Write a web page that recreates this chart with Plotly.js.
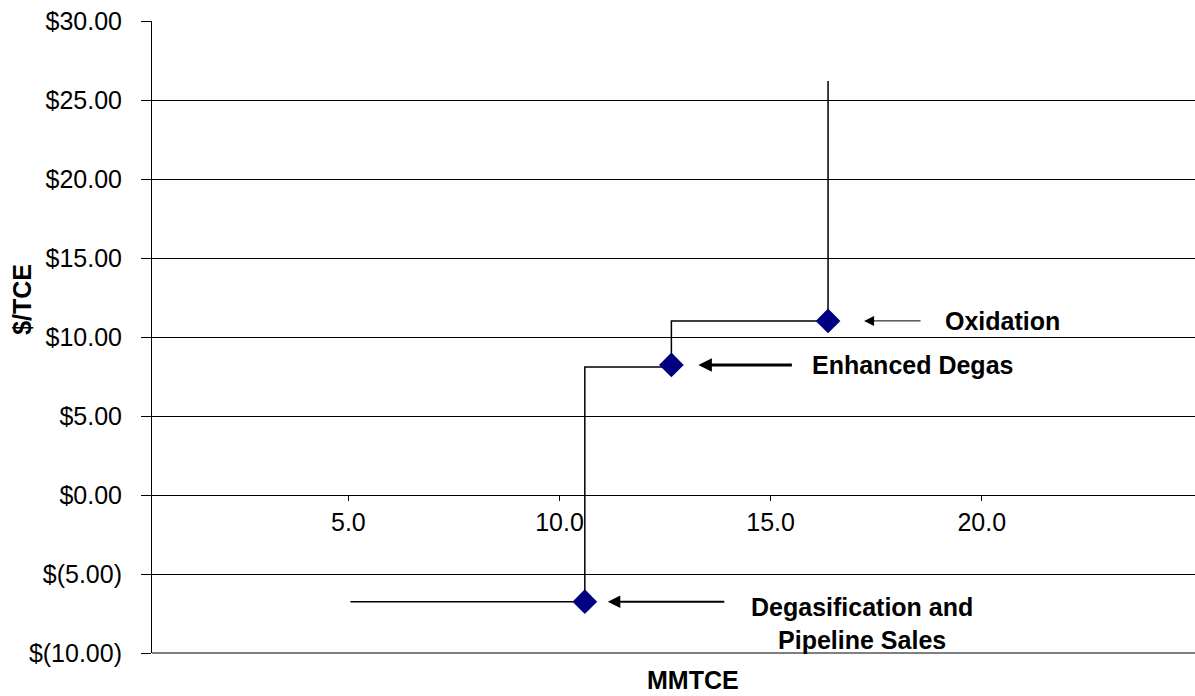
<!DOCTYPE html>
<html>
<head>
<meta charset="utf-8">
<script src="https://cdn.plot.ly/plotly-3.0.1.min.js"></script>
<style>
  html, body { margin: 0; padding: 0; background: #fff; overflow: hidden; }
  #chart { width: 1195px; height: 696px; }
</style>
</head>
<body>
<div id="chart"></div>
<script>
// Marginal abatement steps (cumulative MMTCE vs. cost in $/TCE)
const stepX = [5.05, 10.6, 10.6, 12.65, 12.65, 16.36, 16.36];
const stepY = [-6.75, -6.75, 8.1, 8.1, 11.02, 11.02, 26.2];

// Individual options
const optionNames = ['Degasification and<br>Pipeline Sales', 'Enhanced Degas', 'Oxidation'];
const optionX = [10.6, 12.65, 16.36];
const optionY = [-6.75, 8.23, 11.02];

// Axis ticks
const xTickVals = [5, 10, 15, 20];
const xTickText = ['5.0', '10.0', '15.0', '20.0'];
const yTickVals = [-10, -5, 0, 5, 10, 15, 20, 25, 30];
const yTickText = ['$(10.00)', '$(5.00)', '$0.00', '$5.00', '$10.00', '$15.00', '$20.00', '$25.00', '$30.00'];

const FONT = '"Liberation Sans", Arial, Helvetica, sans-serif';

const traces = [
  {
    x: stepX, y: stepY, type: 'scatter', mode: 'lines',
    line: { color: '#000000', width: 1.5, shape: 'linear' },
    hoverinfo: 'skip', showlegend: false
  },
  {
    x: optionX, y: optionY, type: 'scatter', mode: 'markers',
    marker: { symbol: 'diamond', size: 19, color: '#000080', line: { width: 0 } },
    text: optionNames, hoverinfo: 'skip', showlegend: false
  }
];

// arrow styling per option: tail offset px, standoff px, width, head size
const arrowStyle = [
  { ax: 141, standoff: 23, width: 2, size: 1.25 },
  { ax: 122, standoff: 27, width: 3, size: 0.9 },
  { ax: 94, standoff: 36, width: 1, size: 2 }
];
// label placement per option relative to its marker
const labelStyle = [
  { xshift: 277, yshift: -22, xanchor: 'center' },
  { xshift: 139, yshift: 0, xanchor: 'left' },
  { xshift: 115, yshift: 0, xanchor: 'left' }
];

const annotations = [];
optionNames.forEach((name, i) => {
  const a = arrowStyle[i];
  annotations.push({
    x: optionX[i], y: optionY[i], xref: 'x', yref: 'y',
    text: '', showarrow: true, ax: a.ax, ay: 0,
    arrowhead: 2, arrowwidth: a.width, arrowsize: a.size,
    arrowcolor: '#000000', standoff: a.standoff
  });
  const l = labelStyle[i];
  annotations.push({
    x: optionX[i], y: optionY[i], xref: 'x', yref: 'y',
    text: '<b>' + name + '</b>', showarrow: false,
    xanchor: l.xanchor, yanchor: 'middle', align: 'center',
    xshift: l.xshift, yshift: l.yshift,
    font: { family: FONT, size: 25, color: '#000000' }
  });
});

// axis titles
annotations.push({
  xref: 'paper', yref: 'paper', x: 0.5187, y: -0.043,
  text: '<b>MMTCE</b>', showarrow: false, xanchor: 'center', yanchor: 'middle',
  font: { family: FONT, size: 25, color: '#000000' }
});
annotations.push({
  xref: 'paper', yref: 'paper', x: -0.1249, y: 0.56,
  text: '<b>$/TCE</b>', showarrow: false, textangle: -90,
  xanchor: 'center', yanchor: 'middle',
  font: { family: FONT, size: 25, color: '#000000' }
});

const layout = {
  width: 1195, height: 696,
  margin: { l: 152, r: 0, t: 21, b: 43, pad: 0 },
  paper_bgcolor: '#ffffff', plot_bgcolor: '#ffffff',
  font: { family: FONT, size: 25, color: '#000000' },
  showlegend: false,
  xaxis: {
    range: [0.35, 25.05],
    anchor: 'free', position: 0.25,
    tickvals: xTickVals, ticktext: xTickText,
    ticks: 'outside', ticklen: 5, tickcolor: '#000000', tickwidth: 1,
    ticklabelstandoff: 0,
    showline: true, linecolor: '#000000', linewidth: 1,
    showgrid: false, zeroline: false,
    tickfont: { family: FONT, size: 25, color: '#000000' }
  },
  yaxis: {
    range: [-10, 30],
    tickvals: yTickVals, ticktext: yTickText,
    ticks: 'outside', ticklen: 10, tickcolor: '#000000', tickwidth: 1,
    ticklabelstandoff: 14,
    showline: true, linecolor: '#000000', linewidth: 1,
    showgrid: true, gridcolor: '#000000', gridwidth: 1,
    zeroline: false,
    tickfont: { family: FONT, size: 25, color: '#000000' }
  },
  // bottom edge of the plot area
  shapes: [{
    type: 'line', xref: 'paper', yref: 'paper',
    x0: 0, x1: 1, y0: 0, y1: 0,
    line: { color: '#000000', width: 1 }, layer: 'below'
  }],
  annotations: annotations
};

Plotly.newPlot('chart', traces, layout, { staticPlot: true, displayModeBar: false });
</script>
</body>
</html>
